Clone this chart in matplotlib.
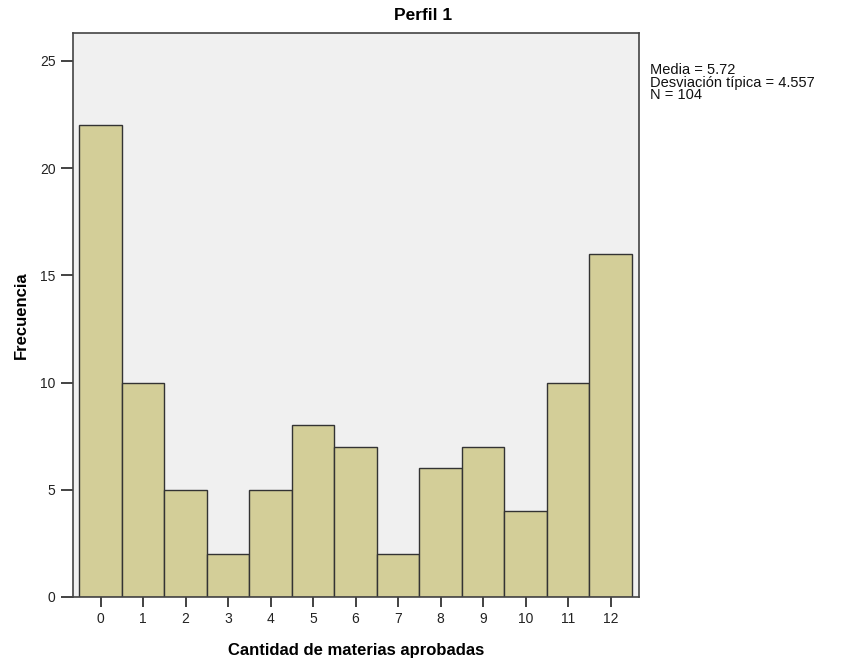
import matplotlib.pyplot as plt

plt.rcParams['font.family'] = ['Liberation Sans', 'DejaVu Sans']

# frequency of each number of passed subjects
materias = [0, 1, 2, 3, 4, 5, 6, 7, 8, 9, 10, 11, 12]
frecuencia = [22, 10, 5, 2, 5, 8, 7, 2, 6, 7, 4, 10, 16]
y_ticks = [0, 5, 10, 15, 20, 25]
stats_text = "Media = 5.72\nDesviación típica = 4.557\nN = 104"

fig = plt.figure(figsize=(8.42, 6.63), dpi=100)
ax = fig.add_axes([73/842, 66/663, 566/842, 564/663])
ax.set_facecolor('#f0f0f0')

ax.bar(materias, frecuencia, width=1.0, color='#d3ce98',
       edgecolor='#333333', linewidth=1.0)

ax.set_xlim(-0.65, 12.67)
ax.set_ylim(0, 26.3)
ax.set_xticks(materias)
ax.set_yticks(y_ticks)
ax.tick_params(axis='both', labelsize=10, colors='#222222', direction='out')
ax.tick_params(axis='y', length=9, width=1.2)
ax.tick_params(axis='x', length=7, width=1.2, pad=4)

for s in ax.spines.values():
    s.set_color('#444444')
    s.set_linewidth(1.2)

ax.set_xlabel("Cantidad de materias aprobadas", fontsize=12, fontweight='bold', labelpad=12)
ax.set_ylabel("Frecuencia", fontsize=12, fontweight='bold', labelpad=8)
fig.text(0.502, 0.977, "Perfil 1", ha='center', va='center', fontsize=12.5, fontweight='bold')

fig.text(650/842, 1 - 63/663, stats_text, ha='left', va='top', fontsize=10.5,
         linespacing=0.88, color='#111111')

fig.savefig('out.png', dpi=100)
